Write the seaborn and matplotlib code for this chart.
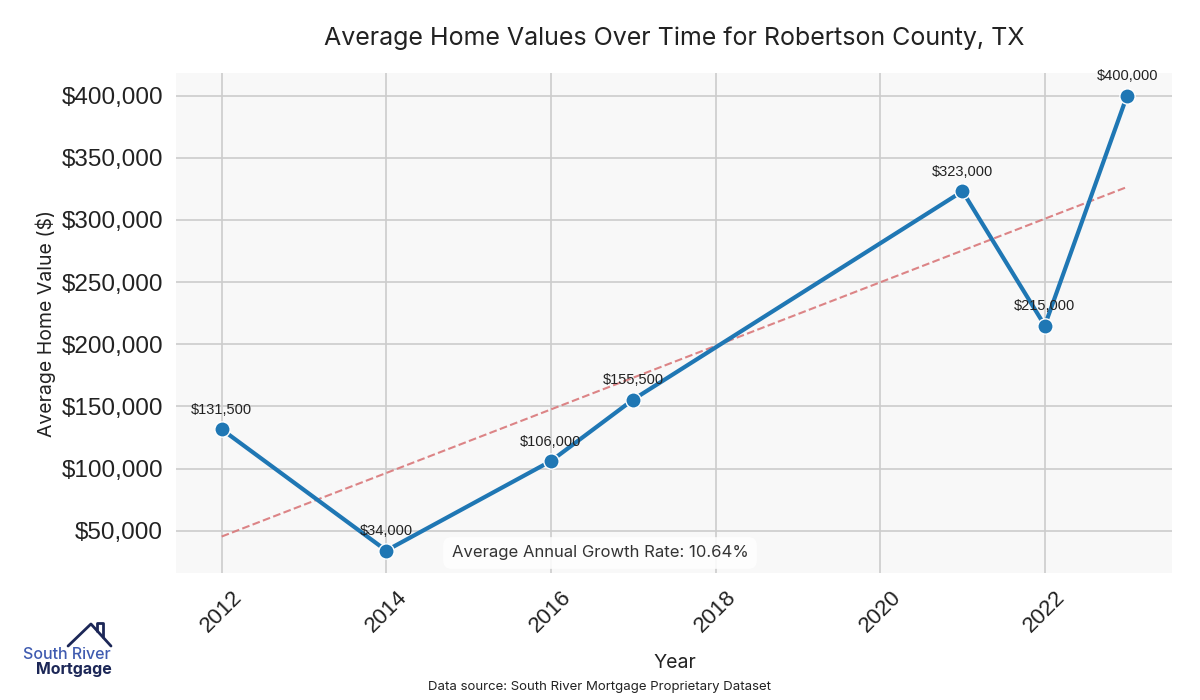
import numpy as np
import pandas as pd
import matplotlib.pyplot as plt
import matplotlib.lines as mlines
import seaborn as sns
from matplotlib.ticker import FuncFormatter

# data
years = [2012, 2014, 2016, 2017, 2021, 2022, 2023]
values = [131500, 34000, 106000, 155500, 323000, 215000, 400000]
x_ticks = [2012, 2014, 2016, 2018, 2020, 2022]

df = pd.DataFrame({"Year": years, "Value": values})

sns.set_theme(style="whitegrid")
plt.rcParams["font.family"] = ["Liberation Sans", "DejaVu Sans"]
geo_font = ["Inter", "DejaVu Sans"]

fig, ax = plt.subplots(figsize=(12, 7), dpi=100)
fig.subplots_adjust(left=0.147, right=0.977, top=0.896, bottom=0.181)
ax.set_facecolor("#f8f8f8")
ax.grid(True, color="#cccccc", linewidth=1.2)
for s in ax.spines.values():
    s.set_visible(False)

sns.lineplot(data=df, x="Year", y="Value", marker="o", color="#1f77b4",
             linewidth=3, markersize=11, markeredgecolor="white",
             markeredgewidth=1, ax=ax, zorder=3)

# trend line
coef = np.polyfit(df["Year"], df["Value"], 1)
trend = np.polyval(coef, df["Year"])
sns.lineplot(x=df["Year"], y=trend, color="#d9787a", linestyle="--",
             linewidth=1.5, alpha=0.9, ax=ax, zorder=2)

for x, y in zip(years, values):
    ax.annotate(f"${y:,.0f}", (x, y), textcoords="offset points",
                xytext=(0, 9), ha="center", va="bottom", fontsize=10.5,
                color="#222222")

# growth rate
n_years = years[-1] - years[0]
cagr = (values[-1] / values[0]) ** (1 / n_years) - 1
fig.text(0.5, 0.21, f"Average Annual Growth Rate: {cagr * 100:.2f}%",
         ha="center", va="center", fontsize=12, family=geo_font,
         color="#333333", zorder=5,
         bbox=dict(boxstyle="round,pad=0.5", facecolor="white",
                   edgecolor="none", alpha=0.85))

ax.set_xticks(x_ticks)
ax.tick_params(axis="x", labelsize=16, rotation=45, colors="#222222")
ax.tick_params(axis="y", labelsize=17.5, colors="#222222")
ax.yaxis.set_major_formatter(FuncFormatter(lambda v, p: f"${v:,.0f}"))

ax.set_title("Average Home Values Over Time for Robertson County, TX",
             fontsize=18, family=geo_font, color="#222222", pad=20)
ax.set_xlabel("Year", fontsize=14, family=geo_font, color="#222222",
              labelpad=13)
ax.set_ylabel("Average Home Value ($)", fontsize=14, family=geo_font,
              color="#222222")

fig.text(0.5, 0.010, "Data source: South River Mortgage Proprietary Dataset",
         ha="center", va="bottom", fontsize=9.5, family=geo_font,
         color="#222222")

# logo
fig.text(0.019, 0.0586, "South River", fontsize=11.5, color="#3f5bb0",
         family=geo_font, weight="medium", ha="left", va="baseline")
fig.text(0.030, 0.037, "Mortgage", fontsize=11.5, color="#1c2757",
         family=geo_font, weight="bold", ha="left", va="baseline")
fig.add_artist(mlines.Line2D([0.0567, 0.0758, 0.0925],
                             [0.0771, 0.1086, 0.0771],
                             color="#1c2757", linewidth=2,
                             transform=fig.transFigure))
fig.add_artist(mlines.Line2D([0.0808, 0.0808, 0.0858, 0.0858],
                             [0.0991, 0.110, 0.110, 0.090],
                             color="#1c2757", linewidth=2,
                             transform=fig.transFigure))

plt.savefig("out.png")
